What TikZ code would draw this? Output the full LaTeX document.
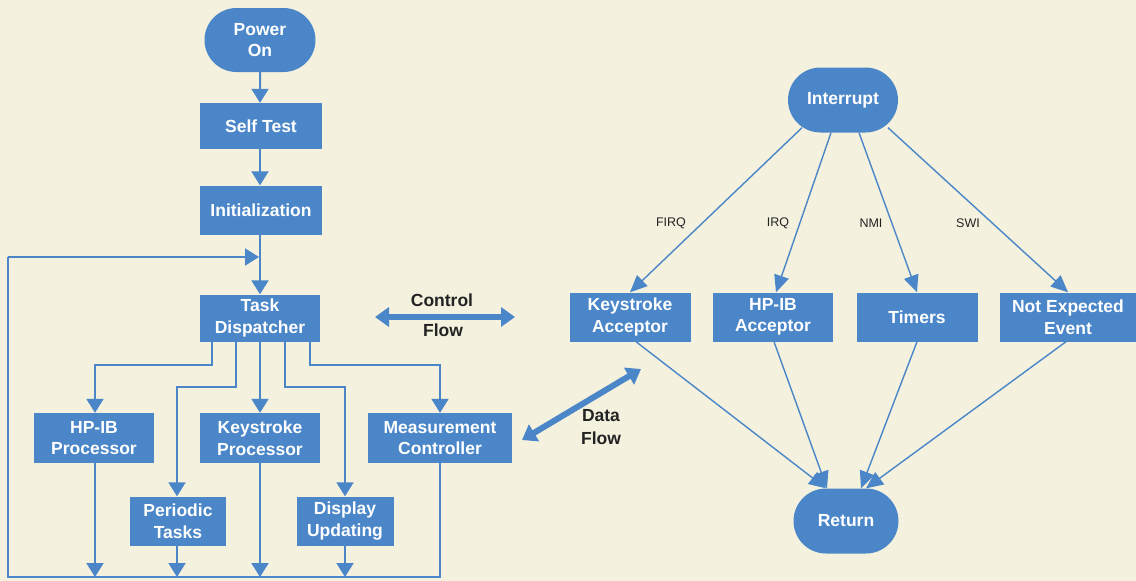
\documentclass[tikz,border=0pt]{standalone}
\usepackage{fontspec}
\setmainfont{Liberation Sans}
\usetikzlibrary{arrows.meta,shapes.misc}
\definecolor{hpblue}{RGB}{74,134,200}
\definecolor{paper}{RGB}{244,241,222}
\definecolor{ink}{RGB}{35,35,35}
\tikzset{
  box/.style={rectangle,fill=hpblue,text=white,font=\bfseries\fontsize{17.5}{21.5}\selectfont,align=center,inner sep=0pt},
  pill/.style={rounded rectangle,fill=hpblue,text=white,font=\bfseries\fontsize{17.5}{21.5}\selectfont,align=center,inner sep=0pt},
  flow/.style={draw=hpblue,line width=2pt,-{Triangle[width=17pt,length=14pt]}},
  line/.style={draw=hpblue,line width=2pt},
  thin/.style={draw=hpblue,line width=1.4pt,-{Triangle[width=15pt,length=17pt]}},
  big/.style={draw=hpblue,line width=6pt,{Triangle[width=19pt,length=14pt]}-{Triangle[width=19pt,length=14pt]}},
  lab/.style={text=ink,font=\bfseries\fontsize{17.5}{21}\selectfont,align=center},
  irq/.style={text=ink,font=\fontsize{12.5}{14}\selectfont}
}
\begin{document}
\begin{tikzpicture}[x=1pt,y=-1pt]
\fill[paper] (0,0) rectangle (1136,581);
\useasboundingbox (0,0) rectangle (1136,581);
% left flowchart
\node[pill,minimum width=111pt,minimum height=64pt] (pwr) at (260,40) {Power\\On};
\node[box,minimum width=122pt,minimum height=46pt] (st) at (261,126) {Self Test};
\node[box,minimum width=122pt,minimum height=49pt] (init) at (261,210) {Initialization};
\node[box,minimum width=120pt,minimum height=47pt] (td) at (260,318) {Task\\Dispatcher};
\node[box,minimum width=120pt,minimum height=50pt] (hpp) at (94,438) {HP-IB\\Processor};
\node[box,minimum width=120pt,minimum height=50pt] (ksp) at (260,438) {Keystroke\\Processor};
\node[box,minimum width=144pt,minimum height=50pt] (mc) at (440,438) {Measurement\\Controller};
\node[box,minimum width=96pt,minimum height=49pt] (pt) at (178,521) {Periodic\\Tasks};
\node[box,minimum width=97pt,minimum height=49pt] (du) at (345,521) {Display\\Updating};
\coordinate (bl) at (8,577);
\coordinate (tl) at (8,257);
\coordinate (j) at (259,257);
\coordinate (h1) at (95,365);
\coordinate (h2) at (177,387);
\coordinate (h3) at (345,387);
\coordinate (h4) at (440,365);
\path[flow] (pwr) -- (st.north -| pwr);
\path[flow] (st.south -| 260,0) -- (init.north -| 260,0);
\path[flow] (init.south -| 260,0) -- (td.north);
\path[line] (mc.south) |- (bl) -- (tl);
\path[flow] (tl) -- (j);
\path[flow] (hpp.south -| h1) -- (bl -| h1);
\path[flow] (pt.south -| h2) -- (bl -| h2);
\path[flow] (ksp.south) -- (ksp.south |- bl);
\path[flow] (du.south) -- (du.south |- bl);
\path[flow] (td.south -| 212,0) |- (h1) -- (hpp.north -| h1);
\path[flow] (td.south -| 236,0) |- (h2) -- (pt.north -| h2);
\path[flow] (td.south) -- (ksp.north);
\path[flow] (td.south -| 285,0) |- (h3) -- (du.north);
\path[flow] (td.south -| 310,0) |- (h4) -- (mc.north);
% legend arrows
\coordinate (cfa) at (375,317);
\coordinate (cfb) at (515,317);
\path[big] (cfa) -- (cfb);
\node[lab] (cft) at (442,300) {Control};
\node[lab] (cfl) at (443,330) {Flow};
\coordinate (dfa) at (522,440);
\coordinate (dfb) at (641,369);
\path[big] (dfa) -- (dfb);
\node[lab] (dft) at (601,416) {Data};
\node[lab] (dfl) at (601,438) {Flow};
% right interrupt diagram
\node[pill,minimum width=110pt,minimum height=65pt] (intr) at (843,100) {Interrupt};
\node[box,minimum width=121pt,minimum height=49pt] (ka) at (630,317) {Keystroke\\Acceptor};
\node[box,minimum width=120pt,minimum height=49pt] (ha) at (773,317) {HP-IB\\Acceptor};
\node[box,minimum width=121pt,minimum height=49pt] (tim) at (917,317) {Timers};
\node[box,minimum width=136pt,minimum height=49pt] (nee) at (1068,317) {Not Expected\\Event};
\node[pill,minimum width=105pt,minimum height=65pt] (ret) at (846,521) {Return};
\path[thin] (intr.south -| 802,0) ++(0,-5) coordinate (i1) -- (ka.north);
\path[thin] (intr.south -| 831,0) -- (ha.north -| 776,0);
\path[thin] (intr.south -| 859,0) -- (tim.north);
\path[thin] (intr.south -| 888,0) ++(0,-5) coordinate (i4) -- (nee.north);
\node[irq] (firq) at (671,223) {FIRQ};
\node[irq] (irql) at (778,223) {IRQ};
\node[irq] (nmi) at (871,223) {NMI};
\node[irq] (swi) at (968,223) {SWI};
\path[thin] (ka.south -| 636,0) -- (ret.north west);
\path[thin] (ha.south -| 774,0) -- (ret.north -| 827,0);
\path[thin] (tim.south) -- (ret.north -| 861,0);
\path[thin] (nee.south -| 1066,0) -- (ret.north east);
\end{tikzpicture}
\end{document}
